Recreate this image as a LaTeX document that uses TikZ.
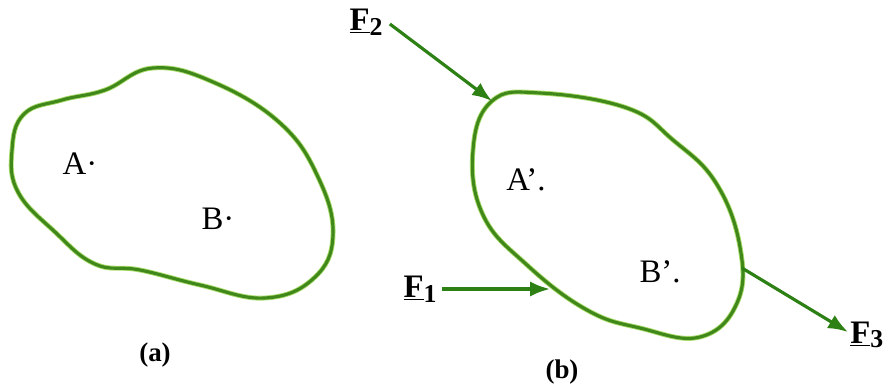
\documentclass[tikz,border=0pt]{standalone}
\usepackage{fontspec}
\setmainfont{Liberation Serif}
\usetikzlibrary{positioning, arrows.meta}
\definecolor{cborde}{RGB}{64,136,26}
\definecolor{chalo}{RGB}{170,220,110}
\definecolor{cfuerza}{RGB}{44,128,20}

\newcommand{\fza}[1]{\textbf{\underline{F}\raisebox{-0.3ex}{\fontsize{22}{22}\selectfont #1}}}

\begin{document}
\begin{tikzpicture}[x=0.03cm, y=-0.03cm, font=\fontsize{28}{32}\selectfont,
    cuerpo/.style={draw=cborde, line width=2.7pt, line join=round,
      preaction={draw=chalo, line width=4.2pt}},
    fuerza/.style={draw=cfuerza, line width=2.7pt, -{Latex[length=17pt, width=13pt]}},
    etiq/.style={inner sep=1pt},
    rotulo/.style={inner sep=1pt, font=\fontsize{23}{26}\selectfont\bfseries}]

  \useasboundingbox (0,0) rectangle (889,386);

  % cuerpo (a)
  \draw[cuerpo] plot[smooth cycle, tension=0.7] coordinates {
    (24,114) (62,100) (105,90) (153,68) (213,82) (280,123) (318,177)
    (333,235) (314,278) (265,298) (200,285) (140,270) (95,264) (55,232)
    (18,192) (12,150)};
  \node[etiq] (A) at (80,164) {A·};
  \node[etiq] (B) at (218,219) {B·};
  \node[rotulo] (la) at (155,355) {(a)};

  % cuerpo (b)
  \draw[cuerpo] plot[smooth cycle, tension=0.7] coordinates {
    (492,101) (540,93) (627,108) (673,140) (716,183) (740,247)
    (737,303) (700,337) (640,328) (587,310) (527,265) (483,215) (473,150)};
  \node[etiq] (A1) at (526,180) {A’.};
  \node[etiq] (B1) at (660,272) {B’.};
  \node[rotulo] (lb) at (562,372) {(b)};

  % fuerzas
  \coordinate (p2) at (492,101);
  \coordinate (p1) at (550,289);
  \coordinate (p3) at (742,268);
  \coordinate (q3) at (848,332);
  \node[etiq] (F2) at (366,22) {\fza{2}};
  \node[etiq, anchor=east] (F1) at (438,289) {\fza{1}};
  \node[etiq, anchor=west] (F3) at (849,335) {\fza{3}};

  \draw[fuerza] (F2.east) ++(6,2) -- (p2);
  \draw[fuerza] ([xshift=0.12cm]F1.east) -- (p1);
  \draw[fuerza] (p3) -- (q3);
\end{tikzpicture}
\end{document}
